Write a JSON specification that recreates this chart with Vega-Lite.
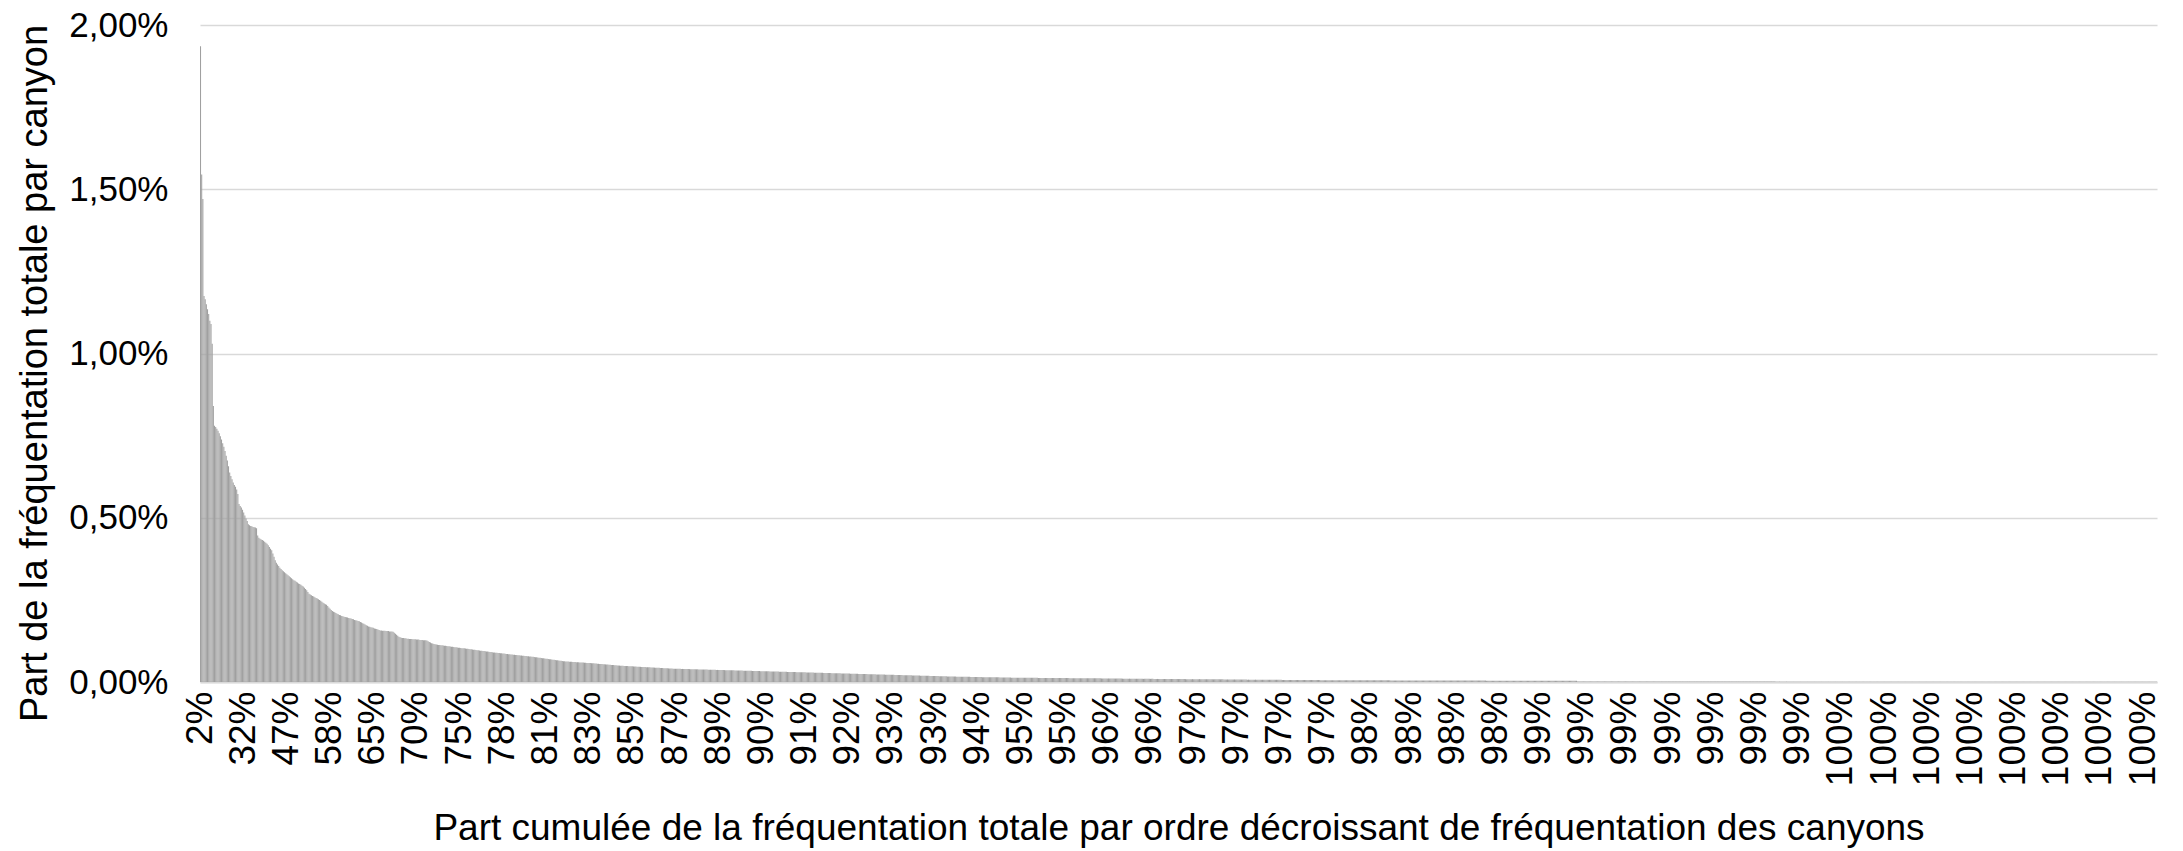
{
"$schema": "https://vega.github.io/schema/vega-lite/v6.json",
"width": 1957,
"height": 657,
"autosize": {"type": "none"},
"padding": {"left": 200, "top": 25, "right": 26, "bottom": 169},
"background": "white",
"datasets": {"canyons": [
{"i":1,"v":1.935,"l":"2%"},{"i":2,"v":1.545},{"i":3,"v":1.47},{"i":4,"v":1.175},{"i":5,"v":1.165},{"i":6,"v":1.15},{"i":7,"v":1.135},{"i":8,"v":1.12},{"i":9,"v":1.1},{"i":10,"v":1.09},
{"i":11,"v":1.03},{"i":12,"v":0.84},{"i":13,"v":0.78},{"i":14,"v":0.776},{"i":15,"v":0.771},{"i":16,"v":0.765},{"i":17,"v":0.757},{"i":18,"v":0.748},{"i":19,"v":0.738},{"i":20,"v":0.727},
{"i":21,"v":0.716},{"i":22,"v":0.703},{"i":23,"v":0.689},{"i":24,"v":0.674},{"i":25,"v":0.657},{"i":26,"v":0.638},{"i":27,"v":0.627},{"i":28,"v":0.617},{"i":29,"v":0.607},{"i":30,"v":0.6},
{"i":31,"v":0.594},{"i":32,"v":0.586},{"i":33,"v":0.572},{"i":34,"v":0.542},{"i":35,"v":0.536},{"i":36,"v":0.531},{"i":37,"v":0.524},{"i":38,"v":0.516,"l":"32%"},{"i":39,"v":0.507},{"i":40,"v":0.498},
{"i":41,"v":0.49},{"i":42,"v":0.48},{"i":43,"v":0.477},{"i":44,"v":0.475},{"i":45,"v":0.474},{"i":46,"v":0.472},{"i":47,"v":0.471},{"i":48,"v":0.47},{"i":49,"v":0.468},{"i":50,"v":0.446},
{"i":51,"v":0.439},{"i":52,"v":0.436},{"i":53,"v":0.434},{"i":54,"v":0.432},{"i":55,"v":0.43},{"i":56,"v":0.427},{"i":57,"v":0.424},{"i":58,"v":0.421},{"i":59,"v":0.416},{"i":60,"v":0.411},
{"i":61,"v":0.406},{"i":62,"v":0.401},{"i":63,"v":0.391},{"i":64,"v":0.381},{"i":65,"v":0.371},{"i":66,"v":0.363},{"i":67,"v":0.358},{"i":68,"v":0.353},{"i":69,"v":0.348},{"i":70,"v":0.344},
{"i":71,"v":0.34},{"i":72,"v":0.337},{"i":73,"v":0.334},{"i":74,"v":0.331},{"i":75,"v":0.328,"l":"47%"},{"i":76,"v":0.325},{"i":77,"v":0.322},{"i":78,"v":0.319},{"i":79,"v":0.316},{"i":80,"v":0.313},
{"i":81,"v":0.31},{"i":82,"v":0.308},{"i":83,"v":0.305},{"i":84,"v":0.303},{"i":85,"v":0.3},{"i":86,"v":0.298},{"i":87,"v":0.296},{"i":88,"v":0.293},{"i":89,"v":0.291},{"i":90,"v":0.287},
{"i":91,"v":0.283},{"i":92,"v":0.279},{"i":93,"v":0.274},{"i":94,"v":0.269},{"i":95,"v":0.266},{"i":96,"v":0.264},{"i":97,"v":0.262},{"i":98,"v":0.26},{"i":99,"v":0.258},{"i":100,"v":0.256},
{"i":101,"v":0.254},{"i":102,"v":0.252},{"i":103,"v":0.25},{"i":104,"v":0.247},{"i":105,"v":0.244},{"i":106,"v":0.241},{"i":107,"v":0.239},{"i":108,"v":0.237},{"i":109,"v":0.235},{"i":110,"v":0.231},
{"i":111,"v":0.227},{"i":112,"v":0.223,"l":"58%"},{"i":113,"v":0.219},{"i":114,"v":0.216},{"i":115,"v":0.214},{"i":116,"v":0.212},{"i":117,"v":0.21},{"i":118,"v":0.208},{"i":119,"v":0.206},{"i":120,"v":0.204},
{"i":121,"v":0.203},{"i":122,"v":0.201},{"i":123,"v":0.2},{"i":124,"v":0.199},{"i":125,"v":0.198},{"i":126,"v":0.197},{"i":127,"v":0.196},{"i":128,"v":0.195},{"i":129,"v":0.194},{"i":130,"v":0.193},
{"i":131,"v":0.192},{"i":132,"v":0.191},{"i":133,"v":0.189},{"i":134,"v":0.188},{"i":135,"v":0.187},{"i":136,"v":0.186},{"i":137,"v":0.185},{"i":138,"v":0.183},{"i":139,"v":0.181},{"i":140,"v":0.179},
{"i":141,"v":0.177},{"i":142,"v":0.175},{"i":143,"v":0.173},{"i":144,"v":0.171},{"i":145,"v":0.169},{"i":146,"v":0.168},{"i":147,"v":0.167},{"i":148,"v":0.166},{"i":149,"v":0.165,"l":"65%"},{"i":150,"v":0.163},
{"i":151,"v":0.162},{"i":152,"v":0.161},{"i":153,"v":0.16},{"i":154,"v":0.158},{"i":155,"v":0.157},{"i":156,"v":0.157},{"i":157,"v":0.156},{"i":158,"v":0.156},{"i":159,"v":0.156},{"i":160,"v":0.155},
{"i":161,"v":0.155},{"i":162,"v":0.155},{"i":163,"v":0.154},{"i":164,"v":0.154},{"i":165,"v":0.154},{"i":166,"v":0.153},{"i":167,"v":0.15},{"i":168,"v":0.147},{"i":169,"v":0.144},{"i":170,"v":0.141},
{"i":171,"v":0.138},{"i":172,"v":0.136},{"i":173,"v":0.135},{"i":174,"v":0.134},{"i":175,"v":0.134},{"i":176,"v":0.133},{"i":177,"v":0.133},{"i":178,"v":0.132},{"i":179,"v":0.132},{"i":180,"v":0.131},
{"i":181,"v":0.131},{"i":182,"v":0.131},{"i":183,"v":0.13},{"i":184,"v":0.13},{"i":185,"v":0.13},{"i":186,"v":0.129,"l":"70%"},{"i":187,"v":0.129},{"i":188,"v":0.129},{"i":189,"v":0.128},{"i":190,"v":0.128},
{"i":191,"v":0.128},{"i":192,"v":0.127},{"i":193,"v":0.127},{"i":194,"v":0.127},{"i":195,"v":0.126},{"i":196,"v":0.124},{"i":197,"v":0.122},{"i":198,"v":0.12},{"i":199,"v":0.118},{"i":200,"v":0.117},
{"i":201,"v":0.116},{"i":202,"v":0.115},{"i":203,"v":0.114},{"i":204,"v":0.1135},{"i":205,"v":0.113},{"i":206,"v":0.1125},{"i":207,"v":0.112},{"i":208,"v":0.1115},{"i":209,"v":0.111},{"i":210,"v":0.1105},
{"i":211,"v":0.11},{"i":212,"v":0.1095},{"i":213,"v":0.109},{"i":214,"v":0.1085},{"i":215,"v":0.108},{"i":216,"v":0.1075},{"i":217,"v":0.107},{"i":218,"v":0.1065},{"i":219,"v":0.106},{"i":220,"v":0.1055},
{"i":221,"v":0.105},{"i":222,"v":0.1045},{"i":223,"v":0.104,"l":"75%"},{"i":224,"v":0.1035},{"i":225,"v":0.103},{"i":226,"v":0.103},{"i":227,"v":0.1025},{"i":228,"v":0.102},{"i":229,"v":0.1015},{"i":230,"v":0.101},
{"i":231,"v":0.1005},{"i":232,"v":0.1},{"i":233,"v":0.0995},{"i":234,"v":0.099},{"i":235,"v":0.0985},{"i":236,"v":0.098},{"i":237,"v":0.0975},{"i":238,"v":0.097},{"i":239,"v":0.0965},{"i":240,"v":0.096},
{"i":241,"v":0.0955},{"i":242,"v":0.095},{"i":243,"v":0.0945},{"i":244,"v":0.094},{"i":245,"v":0.0935},{"i":246,"v":0.093},{"i":247,"v":0.0925},{"i":248,"v":0.092},{"i":249,"v":0.0915},{"i":250,"v":0.091},
{"i":251,"v":0.0905},{"i":252,"v":0.09},{"i":253,"v":0.0896},{"i":254,"v":0.0892},{"i":255,"v":0.0888},{"i":256,"v":0.0884},{"i":257,"v":0.088},{"i":258,"v":0.0876},{"i":259,"v":0.0872},{"i":260,"v":0.0868,"l":"78%"},
{"i":261,"v":0.0864},{"i":262,"v":0.086},{"i":263,"v":0.0856},{"i":264,"v":0.0852},{"i":265,"v":0.0848},{"i":266,"v":0.0844},{"i":267,"v":0.084},{"i":268,"v":0.0836},{"i":269,"v":0.0832},{"i":270,"v":0.0828},
{"i":271,"v":0.0824},{"i":272,"v":0.082},{"i":273,"v":0.0816},{"i":274,"v":0.0812},{"i":275,"v":0.0808},{"i":276,"v":0.0804},{"i":277,"v":0.08},{"i":278,"v":0.0796},{"i":279,"v":0.0792},{"i":280,"v":0.0788},
{"i":281,"v":0.0784},{"i":282,"v":0.0782},{"i":283,"v":0.078},{"i":284,"v":0.0775},{"i":285,"v":0.077},{"i":286,"v":0.0765},{"i":287,"v":0.076},{"i":288,"v":0.0755},{"i":289,"v":0.075},{"i":290,"v":0.0745},
{"i":291,"v":0.074},{"i":292,"v":0.0735},{"i":293,"v":0.073},{"i":294,"v":0.0725},{"i":295,"v":0.072},{"i":296,"v":0.0715},{"i":297,"v":0.071,"l":"81%"},{"i":298,"v":0.0705},{"i":299,"v":0.07},{"i":300,"v":0.0695},
{"i":301,"v":0.069},{"i":302,"v":0.0685},{"i":303,"v":0.068},{"i":304,"v":0.0675},{"i":305,"v":0.067},{"i":306,"v":0.0665},{"i":307,"v":0.066},{"i":308,"v":0.0655},{"i":309,"v":0.065},{"i":310,"v":0.0645},
{"i":311,"v":0.064},{"i":312,"v":0.0635},{"i":313,"v":0.063},{"i":314,"v":0.0627},{"i":315,"v":0.0625},{"i":316,"v":0.0622},{"i":317,"v":0.062},{"i":318,"v":0.0617},{"i":319,"v":0.0615},{"i":320,"v":0.0612},
{"i":321,"v":0.061},{"i":322,"v":0.0607},{"i":323,"v":0.0605},{"i":324,"v":0.0602},{"i":325,"v":0.06},{"i":326,"v":0.0597},{"i":327,"v":0.0595},{"i":328,"v":0.0592},{"i":329,"v":0.059},{"i":330,"v":0.0587},
{"i":331,"v":0.0585},{"i":332,"v":0.0582},{"i":333,"v":0.058},{"i":334,"v":0.0577,"l":"83%"},{"i":335,"v":0.0575},{"i":336,"v":0.0572},{"i":337,"v":0.057},{"i":338,"v":0.0567},{"i":339,"v":0.0565},{"i":340,"v":0.056},
{"i":341,"v":0.0557},{"i":342,"v":0.0554},{"i":343,"v":0.0551},{"i":344,"v":0.0548},{"i":345,"v":0.0545},{"i":346,"v":0.0542},{"i":347,"v":0.0539},{"i":348,"v":0.0536},{"i":349,"v":0.0533},{"i":350,"v":0.053},
{"i":351,"v":0.0527},{"i":352,"v":0.0524},{"i":353,"v":0.0521},{"i":354,"v":0.0518},{"i":355,"v":0.0515},{"i":356,"v":0.0512},{"i":357,"v":0.0509},{"i":358,"v":0.0506},{"i":359,"v":0.0503},{"i":360,"v":0.05},
{"i":361,"v":0.0498},{"i":362,"v":0.0495},{"i":363,"v":0.0492},{"i":364,"v":0.049},{"i":365,"v":0.0488},{"i":366,"v":0.0486},{"i":367,"v":0.0484},{"i":368,"v":0.0482},{"i":369,"v":0.048},{"i":370,"v":0.0478},
{"i":371,"v":0.0476,"l":"85%"},{"i":372,"v":0.0474},{"i":373,"v":0.0472},{"i":374,"v":0.047},{"i":375,"v":0.0468},{"i":376,"v":0.0466},{"i":377,"v":0.0464},{"i":378,"v":0.0462},{"i":379,"v":0.046},{"i":380,"v":0.0458},
{"i":381,"v":0.0456},{"i":382,"v":0.0454},{"i":383,"v":0.0452},{"i":384,"v":0.045},{"i":385,"v":0.0448},{"i":386,"v":0.0446},{"i":387,"v":0.0444},{"i":388,"v":0.0442},{"i":389,"v":0.044},{"i":390,"v":0.0438},
{"i":391,"v":0.0436},{"i":392,"v":0.0434},{"i":393,"v":0.0432},{"i":394,"v":0.043},{"i":395,"v":0.0428},{"i":396,"v":0.0426},{"i":397,"v":0.0424},{"i":398,"v":0.0422},{"i":399,"v":0.042},{"i":400,"v":0.0418},
{"i":401,"v":0.0416},{"i":402,"v":0.0414},{"i":403,"v":0.0412},{"i":404,"v":0.041},{"i":405,"v":0.0408},{"i":406,"v":0.0406},{"i":407,"v":0.0404},{"i":408,"v":0.0403,"l":"87%"},{"i":409,"v":0.0402},{"i":410,"v":0.0401},
{"i":411,"v":0.04},{"i":412,"v":0.04},{"i":413,"v":0.0399},{"i":414,"v":0.0398},{"i":415,"v":0.0397},{"i":416,"v":0.0396},{"i":417,"v":0.0395},{"i":418,"v":0.0394},{"i":419,"v":0.0393},{"i":420,"v":0.0392},
{"i":421,"v":0.0391},{"i":422,"v":0.039},{"i":423,"v":0.0389},{"i":424,"v":0.0388},{"i":425,"v":0.0387},{"i":426,"v":0.0386},{"i":427,"v":0.0385},{"i":428,"v":0.0384},{"i":429,"v":0.0383},{"i":430,"v":0.0382},
{"i":431,"v":0.0381},{"i":432,"v":0.038},{"i":433,"v":0.0379},{"i":434,"v":0.0378},{"i":435,"v":0.0377},{"i":436,"v":0.0376},{"i":437,"v":0.0375},{"i":438,"v":0.0374},{"i":439,"v":0.0373},{"i":440,"v":0.0372},
{"i":441,"v":0.0371},{"i":442,"v":0.037},{"i":443,"v":0.0369},{"i":444,"v":0.0368},{"i":445,"v":0.0367,"l":"89%"},{"i":446,"v":0.0366},{"i":447,"v":0.0365},{"i":448,"v":0.0364},{"i":449,"v":0.0363},{"i":450,"v":0.0362},
{"i":451,"v":0.0361},{"i":452,"v":0.036},{"i":453,"v":0.0359},{"i":454,"v":0.0358},{"i":455,"v":0.0357},{"i":456,"v":0.0356},{"i":457,"v":0.0355},{"i":458,"v":0.0354},{"i":459,"v":0.0353},{"i":460,"v":0.0352},
{"i":461,"v":0.0351},{"i":462,"v":0.035},{"i":463,"v":0.0349},{"i":464,"v":0.0348},{"i":465,"v":0.0347},{"i":466,"v":0.0346},{"i":467,"v":0.0345},{"i":468,"v":0.0344},{"i":469,"v":0.0343},{"i":470,"v":0.0342},
{"i":471,"v":0.0341},{"i":472,"v":0.034},{"i":473,"v":0.0339},{"i":474,"v":0.0338},{"i":475,"v":0.0337},{"i":476,"v":0.0336},{"i":477,"v":0.0335},{"i":478,"v":0.0334},{"i":479,"v":0.0333},{"i":480,"v":0.0332},
{"i":481,"v":0.0331},{"i":482,"v":0.033,"l":"90%"},{"i":483,"v":0.0329},{"i":484,"v":0.0328},{"i":485,"v":0.0327},{"i":486,"v":0.0326},{"i":487,"v":0.0325},{"i":488,"v":0.0324},{"i":489,"v":0.0323},{"i":490,"v":0.0322},
{"i":491,"v":0.0321},{"i":492,"v":0.032},{"i":493,"v":0.0319},{"i":494,"v":0.0318},{"i":495,"v":0.0317},{"i":496,"v":0.0316},{"i":497,"v":0.0315},{"i":498,"v":0.0314},{"i":499,"v":0.0313},{"i":500,"v":0.0312},
{"i":501,"v":0.0311},{"i":502,"v":0.031},{"i":503,"v":0.0309},{"i":504,"v":0.0308},{"i":505,"v":0.0307},{"i":506,"v":0.0306},{"i":507,"v":0.0305},{"i":508,"v":0.0304},{"i":509,"v":0.0303},{"i":510,"v":0.0302},
{"i":511,"v":0.0301},{"i":512,"v":0.03},{"i":513,"v":0.0299},{"i":514,"v":0.0298},{"i":515,"v":0.0297},{"i":516,"v":0.0296},{"i":517,"v":0.0295},{"i":518,"v":0.0294},{"i":519,"v":0.0293,"l":"91%"},{"i":520,"v":0.0292},
{"i":521,"v":0.0291},{"i":522,"v":0.029},{"i":523,"v":0.0289},{"i":524,"v":0.0288},{"i":525,"v":0.0287},{"i":526,"v":0.0286},{"i":527,"v":0.0285},{"i":528,"v":0.0284},{"i":529,"v":0.0283},{"i":530,"v":0.0282},
{"i":531,"v":0.0281},{"i":532,"v":0.028},{"i":533,"v":0.0279},{"i":534,"v":0.0278},{"i":535,"v":0.0277},{"i":536,"v":0.0276},{"i":537,"v":0.0275},{"i":538,"v":0.0274},{"i":539,"v":0.0273},{"i":540,"v":0.0272},
{"i":541,"v":0.0271},{"i":542,"v":0.027},{"i":543,"v":0.0269},{"i":544,"v":0.0268},{"i":545,"v":0.0267},{"i":546,"v":0.0266},{"i":547,"v":0.0265},{"i":548,"v":0.0264},{"i":549,"v":0.0263},{"i":550,"v":0.0262},
{"i":551,"v":0.0261},{"i":552,"v":0.026},{"i":553,"v":0.0259},{"i":554,"v":0.0258},{"i":555,"v":0.0257},{"i":556,"v":0.0256,"l":"92%"},{"i":557,"v":0.0255},{"i":558,"v":0.0254},{"i":559,"v":0.0253},{"i":560,"v":0.0252},
{"i":561,"v":0.0251},{"i":562,"v":0.025},{"i":563,"v":0.0249},{"i":564,"v":0.0248},{"i":565,"v":0.0247},{"i":566,"v":0.0246},{"i":567,"v":0.0245},{"i":568,"v":0.0244},{"i":569,"v":0.0243},{"i":570,"v":0.0242},
{"i":571,"v":0.0241},{"i":572,"v":0.024},{"i":573,"v":0.0239},{"i":574,"v":0.0238},{"i":575,"v":0.0237},{"i":576,"v":0.0236},{"i":577,"v":0.0235},{"i":578,"v":0.0234},{"i":579,"v":0.0233},{"i":580,"v":0.0232},
{"i":581,"v":0.0231},{"i":582,"v":0.023},{"i":583,"v":0.0229},{"i":584,"v":0.0228},{"i":585,"v":0.0227},{"i":586,"v":0.0226},{"i":587,"v":0.0225},{"i":588,"v":0.0224},{"i":589,"v":0.0223},{"i":590,"v":0.0222},
{"i":591,"v":0.0221},{"i":592,"v":0.022},{"i":593,"v":0.0219,"l":"93%"},{"i":594,"v":0.0218},{"i":595,"v":0.0217},{"i":596,"v":0.0216},{"i":597,"v":0.0215},{"i":598,"v":0.0214},{"i":599,"v":0.0213},{"i":600,"v":0.0212},
{"i":601,"v":0.0211},{"i":602,"v":0.021},{"i":603,"v":0.0209},{"i":604,"v":0.0208},{"i":605,"v":0.0207},{"i":606,"v":0.0206},{"i":607,"v":0.0205},{"i":608,"v":0.0204},{"i":609,"v":0.0203},{"i":610,"v":0.0202},
{"i":611,"v":0.0201},{"i":612,"v":0.02},{"i":613,"v":0.0199},{"i":614,"v":0.0198},{"i":615,"v":0.0197},{"i":616,"v":0.0196},{"i":617,"v":0.0195},{"i":618,"v":0.0194},{"i":619,"v":0.0193},{"i":620,"v":0.0192},
{"i":621,"v":0.0191},{"i":622,"v":0.019},{"i":623,"v":0.0189},{"i":624,"v":0.0188},{"i":625,"v":0.0187},{"i":626,"v":0.0186},{"i":627,"v":0.0185},{"i":628,"v":0.0184},{"i":629,"v":0.0183},{"i":630,"v":0.0182,"l":"93%"},
{"i":631,"v":0.0181},{"i":632,"v":0.018},{"i":633,"v":0.0179},{"i":634,"v":0.0178},{"i":635,"v":0.0177},{"i":636,"v":0.0176},{"i":637,"v":0.0175},{"i":638,"v":0.0174},{"i":639,"v":0.0173},{"i":640,"v":0.0172},
{"i":641,"v":0.0171},{"i":642,"v":0.017},{"i":643,"v":0.0169},{"i":644,"v":0.0168},{"i":645,"v":0.0167},{"i":646,"v":0.0166},{"i":647,"v":0.0165},{"i":648,"v":0.0164},{"i":649,"v":0.0163},{"i":650,"v":0.0162},
{"i":651,"v":0.016},{"i":652,"v":0.016},{"i":653,"v":0.016},{"i":654,"v":0.016},{"i":655,"v":0.016},{"i":656,"v":0.0157},{"i":657,"v":0.0157},{"i":658,"v":0.0157},{"i":659,"v":0.0157},{"i":660,"v":0.0157},
{"i":661,"v":0.0154},{"i":662,"v":0.0154},{"i":663,"v":0.0154},{"i":664,"v":0.0154},{"i":665,"v":0.0154},{"i":666,"v":0.0151},{"i":667,"v":0.0151,"l":"94%"},{"i":668,"v":0.0151},{"i":669,"v":0.0151},{"i":670,"v":0.0151},
{"i":671,"v":0.0148},{"i":672,"v":0.0148},{"i":673,"v":0.0148},{"i":674,"v":0.0148},{"i":675,"v":0.0148},{"i":676,"v":0.0145},{"i":677,"v":0.0145},{"i":678,"v":0.0145},{"i":679,"v":0.0145},{"i":680,"v":0.0145},
{"i":681,"v":0.0142},{"i":682,"v":0.0142},{"i":683,"v":0.0142},{"i":684,"v":0.0142},{"i":685,"v":0.0142},{"i":686,"v":0.0139},{"i":687,"v":0.0139},{"i":688,"v":0.0139},{"i":689,"v":0.0139},{"i":690,"v":0.0139},
{"i":691,"v":0.0136},{"i":692,"v":0.0136},{"i":693,"v":0.0136},{"i":694,"v":0.0136},{"i":695,"v":0.0136},{"i":696,"v":0.0133},{"i":697,"v":0.0133},{"i":698,"v":0.0133},{"i":699,"v":0.0133},{"i":700,"v":0.0133},
{"i":701,"v":0.013},{"i":702,"v":0.013},{"i":703,"v":0.013},{"i":704,"v":0.013,"l":"95%"},{"i":705,"v":0.013},{"i":706,"v":0.013},{"i":707,"v":0.013},{"i":708,"v":0.013},{"i":709,"v":0.013},{"i":710,"v":0.0127},
{"i":711,"v":0.0127},{"i":712,"v":0.0127},{"i":713,"v":0.0127},{"i":714,"v":0.0127},{"i":715,"v":0.0127},{"i":716,"v":0.0127},{"i":717,"v":0.0127},{"i":718,"v":0.0127},{"i":719,"v":0.0124},{"i":720,"v":0.0124},
{"i":721,"v":0.0124},{"i":722,"v":0.0124},{"i":723,"v":0.0124},{"i":724,"v":0.0124},{"i":725,"v":0.0124},{"i":726,"v":0.0124},{"i":727,"v":0.0124},{"i":728,"v":0.0121},{"i":729,"v":0.0121},{"i":730,"v":0.0121},
{"i":731,"v":0.0121},{"i":732,"v":0.0121},{"i":733,"v":0.0121},{"i":734,"v":0.0121},{"i":735,"v":0.0121},{"i":736,"v":0.0121},{"i":737,"v":0.0118},{"i":738,"v":0.0118},{"i":739,"v":0.0118},{"i":740,"v":0.0118},
{"i":741,"v":0.0118,"l":"95%"},{"i":742,"v":0.0118},{"i":743,"v":0.0118},{"i":744,"v":0.0118},{"i":745,"v":0.0118},{"i":746,"v":0.0115},{"i":747,"v":0.0115},{"i":748,"v":0.0115},{"i":749,"v":0.0115},{"i":750,"v":0.0115},
{"i":751,"v":0.0115},{"i":752,"v":0.0115},{"i":753,"v":0.0115},{"i":754,"v":0.0115},{"i":755,"v":0.0113},{"i":756,"v":0.0113},{"i":757,"v":0.0113},{"i":758,"v":0.0113},{"i":759,"v":0.0113},{"i":760,"v":0.0113},
{"i":761,"v":0.0113},{"i":762,"v":0.0113},{"i":763,"v":0.0113},{"i":764,"v":0.0111},{"i":765,"v":0.0111},{"i":766,"v":0.0111},{"i":767,"v":0.0111},{"i":768,"v":0.0111},{"i":769,"v":0.0111},{"i":770,"v":0.0111},
{"i":771,"v":0.0111},{"i":772,"v":0.0111},{"i":773,"v":0.0108},{"i":774,"v":0.0108},{"i":775,"v":0.0108},{"i":776,"v":0.0108},{"i":777,"v":0.0108},{"i":778,"v":0.0108,"l":"96%"},{"i":779,"v":0.0108},{"i":780,"v":0.0108},
{"i":781,"v":0.0108},{"i":782,"v":0.0105},{"i":783,"v":0.0105},{"i":784,"v":0.0105},{"i":785,"v":0.0105},{"i":786,"v":0.0105},{"i":787,"v":0.0105},{"i":788,"v":0.0105},{"i":789,"v":0.0105},{"i":790,"v":0.0105},
{"i":791,"v":0.0102},{"i":792,"v":0.0102},{"i":793,"v":0.0102},{"i":794,"v":0.0102},{"i":795,"v":0.0102},{"i":796,"v":0.0102},{"i":797,"v":0.0102},{"i":798,"v":0.0102},{"i":799,"v":0.0102},{"i":800,"v":0.0099},
{"i":801,"v":0.0099},{"i":802,"v":0.0099},{"i":803,"v":0.0099},{"i":804,"v":0.0099},{"i":805,"v":0.0099},{"i":806,"v":0.0099},{"i":807,"v":0.0099},{"i":808,"v":0.0099},{"i":809,"v":0.0096},{"i":810,"v":0.0096},
{"i":811,"v":0.0096},{"i":812,"v":0.0096},{"i":813,"v":0.0096},{"i":814,"v":0.0096},{"i":815,"v":0.0096,"l":"96%"},{"i":816,"v":0.0096},{"i":817,"v":0.0096},{"i":818,"v":0.0093},{"i":819,"v":0.0093},{"i":820,"v":0.0093},
{"i":821,"v":0.0093},{"i":822,"v":0.0093},{"i":823,"v":0.0093},{"i":824,"v":0.0093},{"i":825,"v":0.0093},{"i":826,"v":0.0093},{"i":827,"v":0.0091},{"i":828,"v":0.0091},{"i":829,"v":0.0091},{"i":830,"v":0.0091},
{"i":831,"v":0.0091},{"i":832,"v":0.0091},{"i":833,"v":0.0091},{"i":834,"v":0.0091},{"i":835,"v":0.0091},{"i":836,"v":0.0089},{"i":837,"v":0.0089},{"i":838,"v":0.0089},{"i":839,"v":0.0089},{"i":840,"v":0.0089},
{"i":841,"v":0.0089},{"i":842,"v":0.0089},{"i":843,"v":0.0089},{"i":844,"v":0.0089},{"i":845,"v":0.0087},{"i":846,"v":0.0087},{"i":847,"v":0.0087},{"i":848,"v":0.0087},{"i":849,"v":0.0087},{"i":850,"v":0.0087},
{"i":851,"v":0.0087},{"i":852,"v":0.0087,"l":"97%"},{"i":853,"v":0.0087},{"i":854,"v":0.0087},{"i":855,"v":0.0087},{"i":856,"v":0.0087},{"i":857,"v":0.0087},{"i":858,"v":0.0084},{"i":859,"v":0.0084},{"i":860,"v":0.0084},
{"i":861,"v":0.0084},{"i":862,"v":0.0084},{"i":863,"v":0.0084},{"i":864,"v":0.0084},{"i":865,"v":0.0084},{"i":866,"v":0.0084},{"i":867,"v":0.0084},{"i":868,"v":0.0081},{"i":869,"v":0.0081},{"i":870,"v":0.0081},
{"i":871,"v":0.0081},{"i":872,"v":0.0081},{"i":873,"v":0.0081},{"i":874,"v":0.0081},{"i":875,"v":0.0081},{"i":876,"v":0.0081},{"i":877,"v":0.0081},{"i":878,"v":0.0078},{"i":879,"v":0.0078},{"i":880,"v":0.0078},
{"i":881,"v":0.0078},{"i":882,"v":0.0078},{"i":883,"v":0.0078},{"i":884,"v":0.0078},{"i":885,"v":0.0078},{"i":886,"v":0.0078},{"i":887,"v":0.0078},{"i":888,"v":0.0075},{"i":889,"v":0.0075,"l":"97%"},{"i":890,"v":0.0075},
{"i":891,"v":0.0075},{"i":892,"v":0.0075},{"i":893,"v":0.0075},{"i":894,"v":0.0075},{"i":895,"v":0.0075},{"i":896,"v":0.0075},{"i":897,"v":0.0075},{"i":898,"v":0.0072},{"i":899,"v":0.0072},{"i":900,"v":0.0072},
{"i":901,"v":0.0072},{"i":902,"v":0.0072},{"i":903,"v":0.0072},{"i":904,"v":0.0072},{"i":905,"v":0.0072},{"i":906,"v":0.0072},{"i":907,"v":0.0072},{"i":908,"v":0.0069},{"i":909,"v":0.0069},{"i":910,"v":0.0069},
{"i":911,"v":0.0069},{"i":912,"v":0.0069},{"i":913,"v":0.0069},{"i":914,"v":0.0069},{"i":915,"v":0.0069},{"i":916,"v":0.0069},{"i":917,"v":0.0069},{"i":918,"v":0.0066},{"i":919,"v":0.0066},{"i":920,"v":0.0066},
{"i":921,"v":0.0066},{"i":922,"v":0.0066},{"i":923,"v":0.0066},{"i":924,"v":0.0066},{"i":925,"v":0.0066},{"i":926,"v":0.0066,"l":"97%"},{"i":927,"v":0.0066},{"i":928,"v":0.0063},{"i":929,"v":0.0063},{"i":930,"v":0.0063},
{"i":931,"v":0.0063},{"i":932,"v":0.0063},{"i":933,"v":0.0063},{"i":934,"v":0.0063},{"i":935,"v":0.0063},{"i":936,"v":0.0063},{"i":937,"v":0.0063},{"i":938,"v":0.0061},{"i":939,"v":0.0061},{"i":940,"v":0.0061},
{"i":941,"v":0.0061},{"i":942,"v":0.0061},{"i":943,"v":0.0061},{"i":944,"v":0.0061},{"i":945,"v":0.0061},{"i":946,"v":0.0061},{"i":947,"v":0.0061},{"i":948,"v":0.0061},{"i":949,"v":0.0061},{"i":950,"v":0.0061},
{"i":951,"v":0.0059},{"i":952,"v":0.0059},{"i":953,"v":0.0059},{"i":954,"v":0.0059},{"i":955,"v":0.0059},{"i":956,"v":0.0059},{"i":957,"v":0.0059},{"i":958,"v":0.0059},{"i":959,"v":0.0059},{"i":960,"v":0.0059},
{"i":961,"v":0.0057},{"i":962,"v":0.0057},{"i":963,"v":0.0057,"l":"97%"},{"i":964,"v":0.0057},{"i":965,"v":0.0057},{"i":966,"v":0.0057},{"i":967,"v":0.0057},{"i":968,"v":0.0057},{"i":969,"v":0.0057},{"i":970,"v":0.0057},
{"i":971,"v":0.0056},{"i":972,"v":0.0056},{"i":973,"v":0.0056},{"i":974,"v":0.0056},{"i":975,"v":0.0056},{"i":976,"v":0.0056},{"i":977,"v":0.0056},{"i":978,"v":0.0056},{"i":979,"v":0.0056},{"i":980,"v":0.0056},
{"i":981,"v":0.0054},{"i":982,"v":0.0054},{"i":983,"v":0.0054},{"i":984,"v":0.0054},{"i":985,"v":0.0054},{"i":986,"v":0.0054},{"i":987,"v":0.0054},{"i":988,"v":0.0054},{"i":989,"v":0.0054},{"i":990,"v":0.0054},
{"i":991,"v":0.0053},{"i":992,"v":0.0053},{"i":993,"v":0.0053},{"i":994,"v":0.0053},{"i":995,"v":0.0053},{"i":996,"v":0.0053},{"i":997,"v":0.0053},{"i":998,"v":0.0053},{"i":999,"v":0.0053},{"i":1000,"v":0.0053,"l":"98%"},
{"i":1001,"v":0.0051},{"i":1002,"v":0.0051},{"i":1003,"v":0.0051},{"i":1004,"v":0.0051},{"i":1005,"v":0.0051},{"i":1006,"v":0.0051},{"i":1007,"v":0.0051},{"i":1008,"v":0.0051},{"i":1009,"v":0.0051},{"i":1010,"v":0.0051},
{"i":1011,"v":0.005},{"i":1012,"v":0.005},{"i":1013,"v":0.005},{"i":1014,"v":0.005},{"i":1015,"v":0.005},{"i":1016,"v":0.005},{"i":1017,"v":0.005},{"i":1018,"v":0.005},{"i":1019,"v":0.005},{"i":1020,"v":0.005},
{"i":1021,"v":0.0048},{"i":1022,"v":0.0048},{"i":1023,"v":0.0048},{"i":1024,"v":0.0048},{"i":1025,"v":0.0048},{"i":1026,"v":0.0048},{"i":1027,"v":0.0048},{"i":1028,"v":0.0048},{"i":1029,"v":0.0048},{"i":1030,"v":0.0048},
{"i":1031,"v":0.0047},{"i":1032,"v":0.0047},{"i":1033,"v":0.0047},{"i":1034,"v":0.0047},{"i":1035,"v":0.0047},{"i":1036,"v":0.0047},{"i":1037,"v":0.0047,"l":"98%"},{"i":1038,"v":0.0047},{"i":1039,"v":0.0047},{"i":1040,"v":0.0047},
{"i":1041,"v":0.0046},{"i":1042,"v":0.0046},{"i":1043,"v":0.0046},{"i":1044,"v":0.0046},{"i":1045,"v":0.0046},{"i":1046,"v":0.0046},{"i":1047,"v":0.0046},{"i":1048,"v":0.0046},{"i":1049,"v":0.0046},{"i":1050,"v":0.0046},
{"i":1051,"v":0.0045},{"i":1052,"v":0.0045},{"i":1053,"v":0.0045},{"i":1054,"v":0.0045},{"i":1055,"v":0.0045},{"i":1056,"v":0.0045},{"i":1057,"v":0.0045},{"i":1058,"v":0.0045},{"i":1059,"v":0.0045},{"i":1060,"v":0.0045},
{"i":1061,"v":0.0045},{"i":1062,"v":0.0045},{"i":1063,"v":0.0045},{"i":1064,"v":0.0044},{"i":1065,"v":0.0044},{"i":1066,"v":0.0044},{"i":1067,"v":0.0044},{"i":1068,"v":0.0044},{"i":1069,"v":0.0044},{"i":1070,"v":0.0044},
{"i":1071,"v":0.0044},{"i":1072,"v":0.0044},{"i":1073,"v":0.0044},{"i":1074,"v":0.0044,"l":"98%"},{"i":1075,"v":0.0044},{"i":1076,"v":0.0044},{"i":1077,"v":0.0043},{"i":1078,"v":0.0043},{"i":1079,"v":0.0043},{"i":1080,"v":0.0043},
{"i":1081,"v":0.0043},{"i":1082,"v":0.0043},{"i":1083,"v":0.0043},{"i":1084,"v":0.0043},{"i":1085,"v":0.0043},{"i":1086,"v":0.0043},{"i":1087,"v":0.0043},{"i":1088,"v":0.0043},{"i":1089,"v":0.0043},{"i":1090,"v":0.0042},
{"i":1091,"v":0.0042},{"i":1092,"v":0.0042},{"i":1093,"v":0.0042},{"i":1094,"v":0.0042},{"i":1095,"v":0.0042},{"i":1096,"v":0.0042},{"i":1097,"v":0.0042},{"i":1098,"v":0.0042},{"i":1099,"v":0.0042},{"i":1100,"v":0.0042},
{"i":1101,"v":0.0042},{"i":1102,"v":0.0042},{"i":1103,"v":0.0041},{"i":1104,"v":0.0041},{"i":1105,"v":0.0041},{"i":1106,"v":0.0041},{"i":1107,"v":0.0041},{"i":1108,"v":0.0041},{"i":1109,"v":0.0041},{"i":1110,"v":0.0041},
{"i":1111,"v":0.0041,"l":"98%"},{"i":1112,"v":0.0041},{"i":1113,"v":0.0041},{"i":1114,"v":0.0041},{"i":1115,"v":0.0041},{"i":1116,"v":0.004},{"i":1117,"v":0.004},{"i":1118,"v":0.004},{"i":1119,"v":0.004},{"i":1120,"v":0.004},
{"i":1121,"v":0.004},{"i":1122,"v":0.004},{"i":1123,"v":0.004},{"i":1124,"v":0.004},{"i":1125,"v":0.004},{"i":1126,"v":0.004},{"i":1127,"v":0.004},{"i":1128,"v":0.004},{"i":1129,"v":0.0039},{"i":1130,"v":0.0039},
{"i":1131,"v":0.0039},{"i":1132,"v":0.0039},{"i":1133,"v":0.0039},{"i":1134,"v":0.0039},{"i":1135,"v":0.0039},{"i":1136,"v":0.0039},{"i":1137,"v":0.0039},{"i":1138,"v":0.0039},{"i":1139,"v":0.0039},{"i":1140,"v":0.0039},
{"i":1141,"v":0.0039},{"i":1142,"v":0.0038},{"i":1143,"v":0.0038},{"i":1144,"v":0.0038},{"i":1145,"v":0.0038},{"i":1146,"v":0.0038},{"i":1147,"v":0.0038},{"i":1148,"v":0.0038,"l":"99%"},{"i":1149,"v":0.0038},{"i":1150,"v":0.0038},
{"i":1151,"v":0.0038},{"i":1152,"v":0.0038},{"i":1153,"v":0.0038},{"i":1154,"v":0.0038},{"i":1155,"v":0.0037},{"i":1156,"v":0.0037},{"i":1157,"v":0.0037},{"i":1158,"v":0.0037},{"i":1159,"v":0.0037},{"i":1160,"v":0.0037},
{"i":1161,"v":0.0037},{"i":1162,"v":0.0037},{"i":1163,"v":0.0037},{"i":1164,"v":0.0037},{"i":1165,"v":0.0037},{"i":1166,"v":0.0037},{"i":1167,"v":0.0037},{"i":1168,"v":0.0036},{"i":1169,"v":0.0036},{"i":1170,"v":0.0036},
{"i":1171,"v":0.0036},{"i":1172,"v":0.0036},{"i":1173,"v":0.0036},{"i":1174,"v":0.0036},{"i":1175,"v":0.0036},{"i":1176,"v":0.0036},{"i":1177,"v":0.0036},{"i":1178,"v":0.0036},{"i":1179,"v":0.0036},{"i":1180,"v":0.0036},
{"i":1181,"v":0.0014},{"i":1182,"v":0.0014},{"i":1183,"v":0.0014},{"i":1184,"v":0.0014},{"i":1185,"v":0.0014,"l":"99%"},{"i":1186,"v":0.0014},{"i":1187,"v":0.0014},{"i":1188,"v":0.0014},{"i":1189,"v":0.0014},{"i":1190,"v":0.0014},
{"i":1191,"v":0.0014},{"i":1192,"v":0.0014},{"i":1193,"v":0.0014},{"i":1194,"v":0.0014},{"i":1195,"v":0.0014},{"i":1196,"v":0.0014},{"i":1197,"v":0.0014},{"i":1198,"v":0.0014},{"i":1199,"v":0.0014},{"i":1200,"v":0.0014},
{"i":1201,"v":0.0014},{"i":1202,"v":0.0014},{"i":1203,"v":0.0014},{"i":1204,"v":0.0014},{"i":1205,"v":0.0014},{"i":1206,"v":0.0014},{"i":1207,"v":0.0014},{"i":1208,"v":0.0014},{"i":1209,"v":0.0014},{"i":1210,"v":0.0014},
{"i":1211,"v":0.0014},{"i":1212,"v":0.0014},{"i":1213,"v":0.0014},{"i":1214,"v":0.0014},{"i":1215,"v":0.0014},{"i":1216,"v":0.0014},{"i":1217,"v":0.0014},{"i":1218,"v":0.0014},{"i":1219,"v":0.0014},{"i":1220,"v":0.0014},
{"i":1221,"v":0.0014},{"i":1222,"v":0.0014,"l":"99%"},{"i":1223,"v":0.0014},{"i":1224,"v":0.0014},{"i":1225,"v":0.0014},{"i":1226,"v":0.0014},{"i":1227,"v":0.0014},{"i":1228,"v":0.0014},{"i":1229,"v":0.0014},{"i":1230,"v":0.0014},
{"i":1231,"v":0.0014},{"i":1232,"v":0.0014},{"i":1233,"v":0.0014},{"i":1234,"v":0.0014},{"i":1235,"v":0.0014},{"i":1236,"v":0.0014},{"i":1237,"v":0.0014},{"i":1238,"v":0.0014},{"i":1239,"v":0.0014},{"i":1240,"v":0.0014},
{"i":1241,"v":0.0014},{"i":1242,"v":0.0014},{"i":1243,"v":0.0014},{"i":1244,"v":0.0014},{"i":1245,"v":0.0014},{"i":1246,"v":0.0014},{"i":1247,"v":0.0014},{"i":1248,"v":0.0014},{"i":1249,"v":0.0014},{"i":1250,"v":0.0014},
{"i":1251,"v":0.0012},{"i":1252,"v":0.0012},{"i":1253,"v":0.0012},{"i":1254,"v":0.0012},{"i":1255,"v":0.0012},{"i":1256,"v":0.0012},{"i":1257,"v":0.0012},{"i":1258,"v":0.0012},{"i":1259,"v":0.0012,"l":"99%"},{"i":1260,"v":0.0012},
{"i":1261,"v":0.0012},{"i":1262,"v":0.0012},{"i":1263,"v":0.0012},{"i":1264,"v":0.0012},{"i":1265,"v":0.0012},{"i":1266,"v":0.0012},{"i":1267,"v":0.0012},{"i":1268,"v":0.0012},{"i":1269,"v":0.0012},{"i":1270,"v":0.0012},
{"i":1271,"v":0.0012},{"i":1272,"v":0.0012},{"i":1273,"v":0.0012},{"i":1274,"v":0.0012},{"i":1275,"v":0.0012},{"i":1276,"v":0.0012},{"i":1277,"v":0.0012},{"i":1278,"v":0.0012},{"i":1279,"v":0.0012},{"i":1280,"v":0.0012},
{"i":1281,"v":0.0012},{"i":1282,"v":0.0012},{"i":1283,"v":0.0012},{"i":1284,"v":0.0012},{"i":1285,"v":0.0012},{"i":1286,"v":0.0012},{"i":1287,"v":0.0012},{"i":1288,"v":0.0012},{"i":1289,"v":0.0012},{"i":1290,"v":0.0012},
{"i":1291,"v":0.0012},{"i":1292,"v":0.0012},{"i":1293,"v":0.0012},{"i":1294,"v":0.0012},{"i":1295,"v":0.0012},{"i":1296,"v":0.0012,"l":"99%"},{"i":1297,"v":0.0012},{"i":1298,"v":0.0012},{"i":1299,"v":0.0012},{"i":1300,"v":0.0012},
{"i":1301,"v":0.0012},{"i":1302,"v":0.0012},{"i":1303,"v":0.0012},{"i":1304,"v":0.0012},{"i":1305,"v":0.0012},{"i":1306,"v":0.0012},{"i":1307,"v":0.0012},{"i":1308,"v":0.0012},{"i":1309,"v":0.0012},{"i":1310,"v":0.0012},
{"i":1311,"v":0.0012},{"i":1312,"v":0.0012},{"i":1313,"v":0.0012},{"i":1314,"v":0.0012},{"i":1315,"v":0.0012},{"i":1316,"v":0.0012},{"i":1317,"v":0.0012},{"i":1318,"v":0.0012},{"i":1319,"v":0.0012},{"i":1320,"v":0.0012},
{"i":1321,"v":0.0012},{"i":1322,"v":0.0012},{"i":1323,"v":0.0012},{"i":1324,"v":0.0012},{"i":1325,"v":0.0012},{"i":1326,"v":0.0012},{"i":1327,"v":0.0012},{"i":1328,"v":0.0012},{"i":1329,"v":0.0012},{"i":1330,"v":0.0012},
{"i":1331,"v":0.0012},{"i":1332,"v":0.0012},{"i":1333,"v":0.0012,"l":"99%"},{"i":1334,"v":0.0012},{"i":1335,"v":0.0012},{"i":1336,"v":0.0012},{"i":1337,"v":0.0012},{"i":1338,"v":0.0012},{"i":1339,"v":0.0012},{"i":1340,"v":0.0012},
{"i":1341,"v":0.0012},{"i":1342,"v":0.0012},{"i":1343,"v":0.0012},{"i":1344,"v":0.0012},{"i":1345,"v":0.0012},{"i":1346,"v":0.0012},{"i":1347,"v":0.0012},{"i":1348,"v":0.0012},{"i":1349,"v":0.0012},{"i":1350,"v":0.0012},
{"i":1351,"v":0.001},{"i":1352,"v":0.001},{"i":1353,"v":0.001},{"i":1354,"v":0.001},{"i":1355,"v":0.001},{"i":1356,"v":0.001},{"i":1357,"v":0.001},{"i":1358,"v":0.001},{"i":1359,"v":0.001},{"i":1360,"v":0.001},
{"i":1361,"v":0.001},{"i":1362,"v":0.001},{"i":1363,"v":0.001},{"i":1364,"v":0.001},{"i":1365,"v":0.001},{"i":1366,"v":0.001},{"i":1367,"v":0.001},{"i":1368,"v":0.001},{"i":1369,"v":0.001},{"i":1370,"v":0.001,"l":"99%"},
{"i":1371,"v":0.001},{"i":1372,"v":0.001},{"i":1373,"v":0.001},{"i":1374,"v":0.001},{"i":1375,"v":0.001},{"i":1376,"v":0.001},{"i":1377,"v":0.001},{"i":1378,"v":0.001},{"i":1379,"v":0.001},{"i":1380,"v":0.001},
{"i":1381,"v":0.001},{"i":1382,"v":0.001},{"i":1383,"v":0.001},{"i":1384,"v":0.001},{"i":1385,"v":0.001},{"i":1386,"v":0.001},{"i":1387,"v":0.001},{"i":1388,"v":0.001},{"i":1389,"v":0.001},{"i":1390,"v":0.001},
{"i":1391,"v":0.001},{"i":1392,"v":0.001},{"i":1393,"v":0.001},{"i":1394,"v":0.001},{"i":1395,"v":0.001},{"i":1396,"v":0.001},{"i":1397,"v":0.001},{"i":1398,"v":0.001},{"i":1399,"v":0.001},{"i":1400,"v":0.001},
{"i":1401,"v":0.001},{"i":1402,"v":0.001},{"i":1403,"v":0.001},{"i":1404,"v":0.001},{"i":1405,"v":0.001},{"i":1406,"v":0.001},{"i":1407,"v":0.001,"l":"100%"},{"i":1408,"v":0.001},{"i":1409,"v":0.001},{"i":1410,"v":0.001},
{"i":1411,"v":0.001},{"i":1412,"v":0.001},{"i":1413,"v":0.001},{"i":1414,"v":0.001},{"i":1415,"v":0.001},{"i":1416,"v":0.001},{"i":1417,"v":0.001},{"i":1418,"v":0.001},{"i":1419,"v":0.001},{"i":1420,"v":0.001},
{"i":1421,"v":0.001},{"i":1422,"v":0.001},{"i":1423,"v":0.001},{"i":1424,"v":0.001},{"i":1425,"v":0.001},{"i":1426,"v":0.001},{"i":1427,"v":0.001},{"i":1428,"v":0.001},{"i":1429,"v":0.001},{"i":1430,"v":0.001},
{"i":1431,"v":0.001},{"i":1432,"v":0.001},{"i":1433,"v":0.001},{"i":1434,"v":0.001},{"i":1435,"v":0.001},{"i":1436,"v":0.001},{"i":1437,"v":0.001},{"i":1438,"v":0.001},{"i":1439,"v":0.001},{"i":1440,"v":0.001},
{"i":1441,"v":0.001},{"i":1442,"v":0.001},{"i":1443,"v":0.001},{"i":1444,"v":0.001,"l":"100%"},{"i":1445,"v":0.001},{"i":1446,"v":0.001},{"i":1447,"v":0.001},{"i":1448,"v":0.001},{"i":1449,"v":0.001},{"i":1450,"v":0.001},
{"i":1451,"v":0.0008},{"i":1452,"v":0.0008},{"i":1453,"v":0.0008},{"i":1454,"v":0.0008},{"i":1455,"v":0.0008},{"i":1456,"v":0.0008},{"i":1457,"v":0.0008},{"i":1458,"v":0.0008},{"i":1459,"v":0.0008},{"i":1460,"v":0.0008},
{"i":1461,"v":0.0008},{"i":1462,"v":0.0008},{"i":1463,"v":0.0008},{"i":1464,"v":0.0008},{"i":1465,"v":0.0008},{"i":1466,"v":0.0008},{"i":1467,"v":0.0008},{"i":1468,"v":0.0008},{"i":1469,"v":0.0008},{"i":1470,"v":0.0008},
{"i":1471,"v":0.0008},{"i":1472,"v":0.0008},{"i":1473,"v":0.0008},{"i":1474,"v":0.0008},{"i":1475,"v":0.0008},{"i":1476,"v":0.0008},{"i":1477,"v":0.0008},{"i":1478,"v":0.0008},{"i":1479,"v":0.0008},{"i":1480,"v":0.0008},
{"i":1481,"v":0.0008,"l":"100%"},{"i":1482,"v":0.0008},{"i":1483,"v":0.0008},{"i":1484,"v":0.0008},{"i":1485,"v":0.0008},{"i":1486,"v":0.0008},{"i":1487,"v":0.0008},{"i":1488,"v":0.0008},{"i":1489,"v":0.0008},{"i":1490,"v":0.0008},
{"i":1491,"v":0.0008},{"i":1492,"v":0.0008},{"i":1493,"v":0.0008},{"i":1494,"v":0.0008},{"i":1495,"v":0.0008},{"i":1496,"v":0.0008},{"i":1497,"v":0.0008},{"i":1498,"v":0.0008},{"i":1499,"v":0.0008},{"i":1500,"v":0.0008},
{"i":1501,"v":0.0008},{"i":1502,"v":0.0008},{"i":1503,"v":0.0008},{"i":1504,"v":0.0008},{"i":1505,"v":0.0008},{"i":1506,"v":0.0008},{"i":1507,"v":0.0008},{"i":1508,"v":0.0008},{"i":1509,"v":0.0008},{"i":1510,"v":0.0008},
{"i":1511,"v":0.0008},{"i":1512,"v":0.0008},{"i":1513,"v":0.0008},{"i":1514,"v":0.0008},{"i":1515,"v":0.0008},{"i":1516,"v":0.0008},{"i":1517,"v":0.0008},{"i":1518,"v":0.0008,"l":"100%"},{"i":1519,"v":0.0008},{"i":1520,"v":0.0008},
{"i":1521,"v":0.0008},{"i":1522,"v":0.0008},{"i":1523,"v":0.0008},{"i":1524,"v":0.0008},{"i":1525,"v":0.0008},{"i":1526,"v":0.0008},{"i":1527,"v":0.0008},{"i":1528,"v":0.0008},{"i":1529,"v":0.0008},{"i":1530,"v":0.0008},
{"i":1531,"v":0.0008},{"i":1532,"v":0.0008},{"i":1533,"v":0.0008},{"i":1534,"v":0.0008},{"i":1535,"v":0.0008},{"i":1536,"v":0.0008},{"i":1537,"v":0.0008},{"i":1538,"v":0.0008},{"i":1539,"v":0.0008},{"i":1540,"v":0.0008},
{"i":1541,"v":0.0008},{"i":1542,"v":0.0008},{"i":1543,"v":0.0008},{"i":1544,"v":0.0008},{"i":1545,"v":0.0008},{"i":1546,"v":0.0008},{"i":1547,"v":0.0008},{"i":1548,"v":0.0008},{"i":1549,"v":0.0008},{"i":1550,"v":0.0008},
{"i":1551,"v":0.0008},{"i":1552,"v":0.0008},{"i":1553,"v":0.0008},{"i":1554,"v":0.0008},{"i":1555,"v":0.0008,"l":"100%"},{"i":1556,"v":0.0008},{"i":1557,"v":0.0008},{"i":1558,"v":0.0008},{"i":1559,"v":0.0008},{"i":1560,"v":0.0008},
{"i":1561,"v":0.0006},{"i":1562,"v":0.0006},{"i":1563,"v":0.0006},{"i":1564,"v":0.0006},{"i":1565,"v":0.0006},{"i":1566,"v":0.0006},{"i":1567,"v":0.0006},{"i":1568,"v":0.0006},{"i":1569,"v":0.0006},{"i":1570,"v":0.0006},
{"i":1571,"v":0.0006},{"i":1572,"v":0.0006},{"i":1573,"v":0.0006},{"i":1574,"v":0.0006},{"i":1575,"v":0.0006},{"i":1576,"v":0.0006},{"i":1577,"v":0.0006},{"i":1578,"v":0.0006},{"i":1579,"v":0.0006},{"i":1580,"v":0.0006},
{"i":1581,"v":0.0006},{"i":1582,"v":0.0006},{"i":1583,"v":0.0006},{"i":1584,"v":0.0006},{"i":1585,"v":0.0006},{"i":1586,"v":0.0006},{"i":1587,"v":0.0006},{"i":1588,"v":0.0006},{"i":1589,"v":0.0006},{"i":1590,"v":0.0006},
{"i":1591,"v":0.0006},{"i":1592,"v":0.0006,"l":"100%"},{"i":1593,"v":0.0006},{"i":1594,"v":0.0006},{"i":1595,"v":0.0006},{"i":1596,"v":0.0006},{"i":1597,"v":0.0006},{"i":1598,"v":0.0006},{"i":1599,"v":0.0006},{"i":1600,"v":0.0006},
{"i":1601,"v":0.0006},{"i":1602,"v":0.0006},{"i":1603,"v":0.0006},{"i":1604,"v":0.0006},{"i":1605,"v":0.0006},{"i":1606,"v":0.0006},{"i":1607,"v":0.0006},{"i":1608,"v":0.0006},{"i":1609,"v":0.0006},{"i":1610,"v":0.0006},
{"i":1611,"v":0.0006},{"i":1612,"v":0.0006},{"i":1613,"v":0.0006},{"i":1614,"v":0.0006},{"i":1615,"v":0.0006},{"i":1616,"v":0.0006},{"i":1617,"v":0.0006},{"i":1618,"v":0.0006},{"i":1619,"v":0.0006},{"i":1620,"v":0.0006},
{"i":1621,"v":0.0006},{"i":1622,"v":0.0006},{"i":1623,"v":0.0006},{"i":1624,"v":0.0006},{"i":1625,"v":0.0006},{"i":1626,"v":0.0006},{"i":1627,"v":0.0006},{"i":1628,"v":0.0006},{"i":1629,"v":0.0006,"l":"100%"},{"i":1630,"v":0.0006},
{"i":1631,"v":0.0006},{"i":1632,"v":0.0006},{"i":1633,"v":0.0006},{"i":1634,"v":0.0006},{"i":1635,"v":0.0006},{"i":1636,"v":0.0006},{"i":1637,"v":0.0006},{"i":1638,"v":0.0006},{"i":1639,"v":0.0006},{"i":1640,"v":0.0006},
{"i":1641,"v":0.0006},{"i":1642,"v":0.0006},{"i":1643,"v":0.0006},{"i":1644,"v":0.0006},{"i":1645,"v":0.0006},{"i":1646,"v":0.0006},{"i":1647,"v":0.0006},{"i":1648,"v":0.0006},{"i":1649,"v":0.0006},{"i":1650,"v":0.0006},
{"i":1651,"v":0.0006},{"i":1652,"v":0.0006},{"i":1653,"v":0.0006},{"i":1654,"v":0.0006},{"i":1655,"v":0.0006},{"i":1656,"v":0.0006},{"i":1657,"v":0.0006},{"i":1658,"v":0.0006},{"i":1659,"v":0.0006},{"i":1660,"v":0.0006},
{"i":1661,"v":0.0006},{"i":1662,"v":0.0006},{"i":1663,"v":0.0006},{"i":1664,"v":0.0006},{"i":1665,"v":0.0006},{"i":1666,"v":0.0006,"l":"100%"},{"i":1667,"v":0.0006},{"i":1668,"v":0.0006},{"i":1669,"v":0.0006},{"i":1670,"v":0.0006},
{"i":1671,"v":0.0006},{"i":1672,"v":0.0006},{"i":1673,"v":0.0006},{"i":1674,"v":0.0006},{"i":1675,"v":0.0006},{"i":1676,"v":0.0006},{"i":1677,"v":0.0006}
]},
"data": {"name": "canyons"},
"mark": {"type": "bar", "color": "#a0a0a0"},
"encoding": {
"x": {"field": "i", "type": "ordinal",
 "scale": {"paddingInner": 0.1, "paddingOuter": 0},
 "axis": {
  "values": [1,38,75,112,149,186,223,260,297,334,371,408,445,482,519,556,593,630,667,704,741,778,815,852,889,926,963,1000,1037,1074,1111,1148,1185,1222,1259,1296,1333,1370,1407,1444,1481,1518,1555,1592,1629,1666],
  "labelExpr": "(data('canyons')[datum.value - 1] || {}).l",
  "labelAngle": -90,
  "labelOverlap": false,
  "labelFontSize": 37,
  "labelPadding": 9,
  "ticks": false,
  "grid": false,
  "domainColor": "#d9d9d9",
  "domainWidth": 2,
  "title": "Part cumulée de la fréquentation totale par ordre décroissant de fréquentation des canyons",
  "titleFontSize": 37,
  "titleFontWeight": "normal",
  "titlePadding": 25
 }},
"y": {"field": "v", "type": "quantitative",
 "scale": {"domain": [0, 2]},
 "axis": {
  "values": [0, 0.5, 1, 1.5, 2],
  "labelExpr": "replace(format(datum.value, '.2f'), '.', ',') + '%'",
  "labelFontSize": 35,
  "labelPadding": 32,
  "ticks": false,
  "domain": false,
  "grid": true,
  "gridColor": "#d9d9d9",
  "gridWidth": 1.5,
  "title": "Part de la fréquentation totale par canyon",
  "titleFontSize": 38,
  "titleFontWeight": "normal",
  "titlePadding": 14,
  "titleY": 348
 }}
},
"config": {
 "view": {"stroke": null},
 "font": "Liberation Sans",
 "axis": {"labelColor": "#000000", "titleColor": "#000000", "labelFont": "Liberation Sans", "titleFont": "Liberation Sans"}
}
}
